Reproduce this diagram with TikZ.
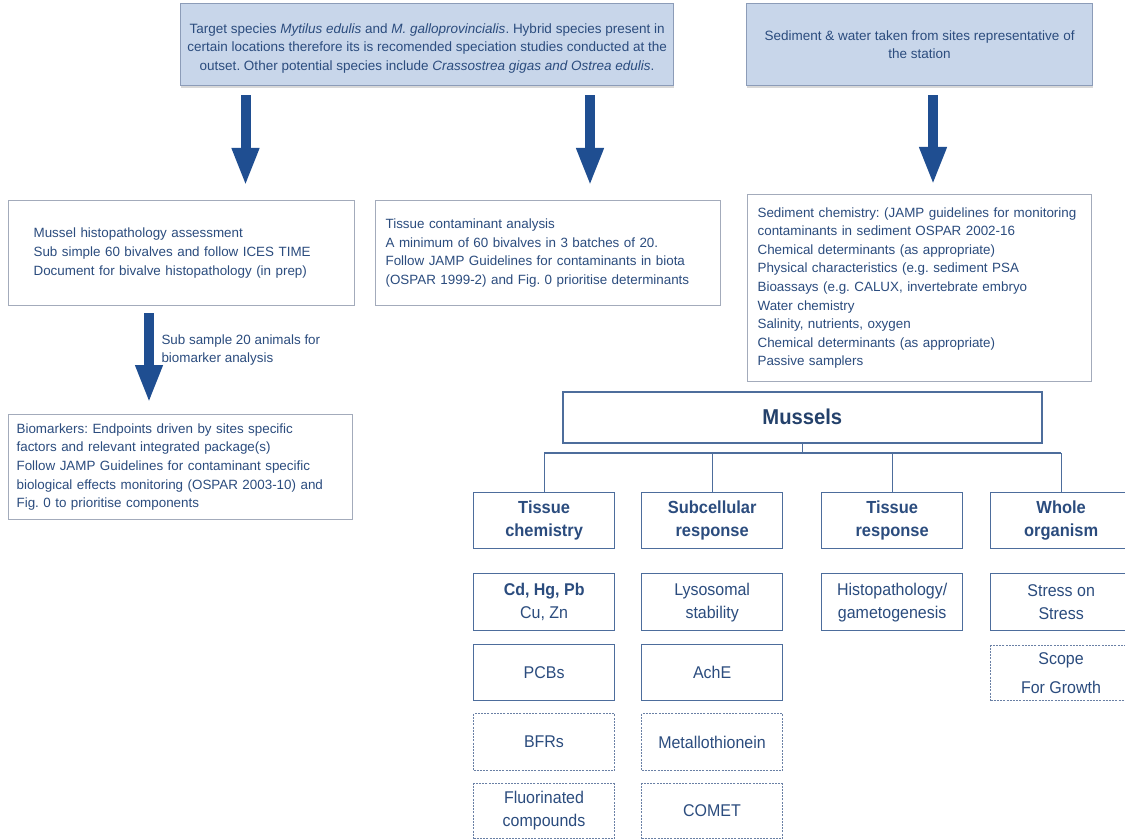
\documentclass[tikz,border=0pt]{standalone}
\usepackage{fontspec}
\setmainfont{Liberation Sans}
\newfontfamily\nar[FakeStretch=0.94]{Liberation Sans}
\usetikzlibrary{arrows.meta,calc,shadows}
\frenchspacing
\definecolor{txt}{HTML}{2B4C7E}
\definecolor{arrowblue}{HTML}{1F4E91}
\definecolor{topfill}{HTML}{C8D6EA}
\definecolor{topdraw}{HTML}{8C9CB8}
\definecolor{plaindraw}{HTML}{A3ABBB}
\definecolor{treedraw}{HTML}{4D6D9C}
\definecolor{dashdraw}{HTML}{6A80A5}
\begin{document}
\begin{tikzpicture}[x=1pt,y=-1pt,
  every node/.style={text=txt},
  topbox/.style={draw=topdraw, fill=topfill, line width=1.2pt, anchor=north west, align=center,
    font=\fontsize{13.5}{18.5}\selectfont, drop shadow={shadow xshift=0pt, shadow yshift=-2.5pt, fill=black!30}},
  plainbox/.style={draw=plaindraw, fill=white, line width=1.2pt, anchor=north west, align=left,
    font=\fontsize{13.4}{18.6}\selectfont},
  bigarrow/.style={draw=arrowblue, line width=10pt, -{Triangle[length=38pt,width=25pt]}},
  tree/.style={draw=treedraw, line width=1.2pt},
  tbox/.style={draw=treedraw, line width=1.3pt, anchor=north west, align=center, minimum width=141pt,
    inner sep=0pt, font=\nar\fontsize{17}{23}\selectfont},
  dbox/.style={tbox, draw=dashdraw, line width=1pt, dash pattern=on 2pt off 1.2pt},
]
\useasboundingbox (0,0) rectangle (1125,840);
\fill[white] (0,0) rectangle (1125,840);

% top boxes
\node[topbox, minimum width=493pt, minimum height=82pt] (t1) at (180,3)
 {\\[-1pt]Target species \textit{Mytilus edulis} and \textit{M. galloprovincialis}. Hybrid species present in\\
  certain locations therefore its is recomended speciation studies conducted at the\\
  outset. Other potential species include \textit{Crassostrea gigas and Ostrea edulis}.};
\node[topbox, minimum width=346pt, minimum height=82pt] (t2) at (746,3)
 {Sediment \& water taken from sites representative of\\ the station};

% second row boxes
\node[plainbox, minimum height=105pt, text width=296pt, inner xsep=25pt] (hist) at (8,200)
 {Mussel histopathology assessment\\
  Sub simple 60 bivalves and follow ICES TIME\\
  Document for bivalve histopathology (in prep)};
\node[plainbox, minimum height=105pt, text width=325pt, inner xsep=10pt] (tiss) at (375,200)
 {Tissue contaminant analysis\\
  A minimum of 60 bivalves in 3 batches of 20.\\
  Follow JAMP Guidelines for contaminants in biota\\
  (OSPAR 1999-2) and Fig. 0 prioritise determinants\\[3pt]};
\node[plainbox, minimum height=187pt, text width=324pt, inner xsep=10pt] (sed) at (747,194)
 {Sediment chemistry: (JAMP guidelines for monitoring\\
  contaminants in sediment OSPAR 2002-16\\
  Chemical determinants (as appropriate)\\
  Physical characteristics (e.g. sediment PSA\\
  Bioassays (e.g. CALUX, invertebrate embryo\\
  Water chemistry\\
  Salinity, nutrients, oxygen\\
  Chemical determinants (as appropriate)\\
  Passive samplers};
\node[plainbox, minimum height=105pt, text width=328pt, inner xsep=8pt] (bio) at (8,414)
 {Biomarkers: Endpoints driven by sites specific\\
  factors and relevant integrated package(s)\\
  Follow JAMP Guidelines for contaminant specific\\
  biological effects monitoring (OSPAR 2003-10) and\\
  Fig. 0 to prioritise components};

% arrows
\coordinate (a1) at (245.5,0);
\coordinate (a2) at (590,0);
\coordinate (a3) at (933,0);
\coordinate (a4) at (149,0);
\draw[bigarrow] ($(t1.south -| a1)+(0,9)$) -- ($(hist.north -| a1)+(0,-14)$);
\draw[bigarrow] ($(t1.south -| a2)+(0,9)$) -- ($(tiss.north -| a2)+(0,-14)$);
\draw[bigarrow] ($(t2.south -| a3)+(0,9)$) -- ($(sed.north -| a3)+(0,-9)$);
\draw[bigarrow] ($(hist.south -| a4)+(0,7)$) -- ($(bio.north -| a4)+(0,-11)$);
\node[anchor=west, align=left, font=\fontsize{13.4}{18.6}\selectfont] (lab) at (158,350)
 {Sub sample 20 animals for\\ biomarker analysis};

% Mussels tree
\node[draw=treedraw, line width=1.6pt, anchor=north west, minimum width=479pt, minimum height=51pt,
  font=\nar\bfseries\fontsize{21.5}{24}\selectfont, text=txt!85!black] (mus) at (562,391) {Mussels};
\node[tbox, minimum height=56pt, font=\nar\bfseries\fontsize{17.5}{23}\selectfont] (h1) at (473,492) {Tissue\\ chemistry};
\node[tbox, minimum height=56pt, font=\nar\bfseries\fontsize{17.5}{23}\selectfont] (h2) at (641,492) {Subcellular\\ response};
\node[tbox, minimum height=56pt, font=\nar\bfseries\fontsize{17.5}{23}\selectfont] (h3) at (821,492) {Tissue\\ response};
\node[tbox, minimum height=56pt, font=\nar\bfseries\fontsize{17.5}{23}\selectfont] (h4) at (990,492) {Whole\\ organism};

\coordinate (bus) at (802,453);
\draw[tree] (mus.south) -- (mus.south |- bus);
\draw[tree] (bus -| h1.north) -- (bus -| h4.north);
\draw[tree] (bus -| h1.north) -- (h1.north);
\draw[tree] (bus -| h2.north) -- (h2.north);
\draw[tree] (bus -| h3.north) -- (h3.north);
\draw[tree] (bus -| h4.north) -- (h4.north);

% column 1
\node[tbox, minimum height=57pt] (c11) at (473,573) {\textbf{Cd, Hg, Pb}\\ Cu, Zn};
\node[tbox, minimum height=56pt] (c12) at (473,644) {PCBs};
\node[dbox, minimum height=57pt] (c13) at (473,713) {BFRs};
\node[dbox, minimum height=55pt] (c14) at (473,783) {Fluorinated\\ compounds};
% column 2
\node[tbox, minimum height=57pt] (c21) at (641,573) {Lysosomal\\ stability};
\node[tbox, minimum height=56pt] (c22) at (641,644) {AchE};
\node[dbox, minimum height=57pt] (c23) at (641,713) {Metallothionein};
\node[dbox, minimum height=55pt] (c24) at (641,783) {COMET};
% column 3
\node[tbox, minimum height=57pt] (c31) at (821,573) {Histopathology/\\ gametogenesis};
% column 4
\node[tbox, minimum height=57pt] (c41) at (990,573) {Stress on\\ Stress};
\node[dbox, minimum height=55pt, font=\nar\fontsize{17}{29}\selectfont] (c42) at (990,645) {Scope\\ For Growth};
\end{tikzpicture}
\end{document}
